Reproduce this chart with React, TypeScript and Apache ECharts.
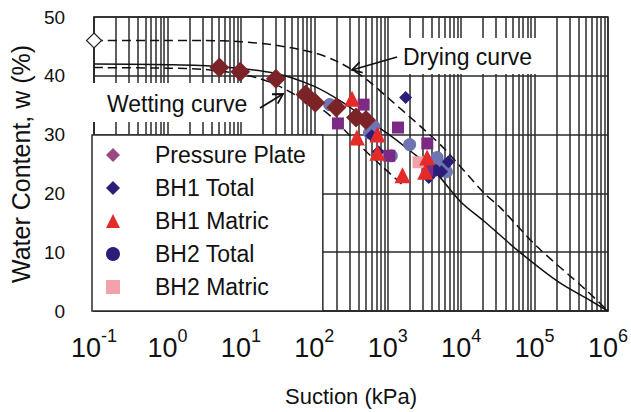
import React, { useEffect, useRef } from "react";
import * as echarts from "echarts";

const FONT = "'Liberation Sans', Arial, Helvetica, sans-serif";

// Curves: [suction kPa, water content %]
const dryingCurve: number[][] = [
  [0.1, 46], [1, 46], [3, 46], [10, 45.8], [30, 45.2], [100, 43.9], [200, 42.5],
  [350, 40.8], [525, 39.3], [1000, 36.3], [3160, 30.8], [6000, 27.5], [20400, 20.1],
  [34700, 17.5], [107000, 11], [490000, 3.7], [1000000, 0],
];
const fittedCurve: number[][] = [
  [0.1, 42], [1, 41.9], [5, 41.6], [30, 40.4], [100, 38.2], [250, 35.4], [525, 32.5],
  [1100, 29.8], [2000, 27.3], [4200, 24], [10000, 18.5], [20400, 15.3], [63000, 10],
  [214000, 4.9], [590000, 1.7], [1000000, 0],
];
const wettingCurve: number[][] = [
  [0.1, 41.4], [1, 41.3], [3, 41.1], [8, 40.5], [16, 39.7], [30, 38.5], [62, 36.4],
  [130, 34.2], [175, 32.9], [390, 28.5], [890, 24.3], [1580, 21.5],
];
const dryingStart: number[][] = [[0.1, 46]];

// Measured points
const pressurePlate: number[][] = [
  [5.1, 41.4], [9.8, 40.7], [30, 39.5], [76, 36.8], [103, 35.4], [200, 34.6], [370, 32.9], [505, 32.5],
];
const bh1Total: number[][] = [
  [1754, 36.3], [605, 29.8], [745, 27.1], [3620, 22.7], [6700, 25.4], [5400, 23.7],
];
const bh1Matric: number[][] = [
  [327, 36.1], [380, 29.5], [725, 30], [725, 26.9], [1590, 23.1], [3440, 26.1], [3240, 23.7],
];
const bh2TotalLight: number[][] = [
  [162, 35.1], [645, 31.4], [565, 30.3], [1990, 28.3], [1120, 26.4], [4700, 26.1], [4950, 25.1], [6300, 23.7],
];
const bh2TotalDark: number[][] = [[4270, 23.9]];
const bh2MatricPurple: number[][] = [
  [470, 35.1], [210, 31.9], [1380, 31.2], [1050, 26.4], [3460, 28.5], [3460, 23.9],
];
const bh2MatricPink: number[][] = [[2630, 25.3]];

const minorGrid: number[] = [];
for (let e = -1; e < 6; e++) {
  for (let m = 2; m <= 9; m++) minorGrid.push(m * Math.pow(10, e));
}

function arrowHead(tx: number, ty: number, fx: number, fy: number, len: number) {
  const dx = fx - tx, dy = fy - ty;
  const n = Math.hypot(dx, dy);
  const bx = dx / n, by = dy / n;
  const a = Math.PI / 6;
  const p1 = [tx + len * (bx * Math.cos(a) - by * Math.sin(a)), ty + len * (bx * Math.sin(a) + by * Math.cos(a))];
  const p2 = [tx + len * (bx * Math.cos(-a) - by * Math.sin(-a)), ty + len * (bx * Math.sin(-a) + by * Math.cos(-a))];
  return [p1, [tx, ty], p2];
}

export default function App() {
  const ref = useRef<HTMLDivElement>(null);
  useEffect(() => {
    if (!ref.current) return;
    const chart = echarts.init(ref.current, null, { renderer: "svg" });
    const dark = "#2a2a2a";
    const option: any = {
      animation: false,
      backgroundColor: "#fff",
      textStyle: { fontFamily: FONT },
      grid: { left: 83, right: 20, top: 17, bottom: 100, show: true, borderColor: dark, borderWidth: 1.5 },
      xAxis: {
        type: "log",
        logBase: 10,
        min: 0.1,
        max: 1000000,
        splitNumber: 7,
        name: "Suction (kPa)",
        nameLocation: "middle",
        nameGap: 74,
        nameTextStyle: { fontFamily: FONT, fontSize: 22, color: "#111" },
        axisLine: { show: true, lineStyle: { color: dark, width: 1.5 } },
        axisTick: { show: false },
        splitLine: { show: true, lineStyle: { color: dark, width: 1.5 } },
        axisLabel: {
          margin: 16,
          formatter: (v: number) => `{b|10}{s|${Math.round(Math.log10(v))}}`,
          rich: {
            b: { fontFamily: FONT, fontSize: 27, color: "#111", lineHeight: 34, verticalAlign: "bottom" },
            s: { fontFamily: FONT, fontSize: 18, color: "#111", lineHeight: 18, verticalAlign: "top" },
          },
        },
      },
      yAxis: {
        type: "value",
        min: 0,
        max: 50,
        interval: 10,
        name: "Water Content, w (%)",
        nameLocation: "middle",
        nameGap: 52,
        nameTextStyle: { fontFamily: FONT, fontSize: 25, color: "#111" },
        axisLine: { show: true, lineStyle: { color: dark, width: 1.5 } },
        axisTick: { show: false },
        splitLine: { show: true, lineStyle: { color: dark, width: 1.5 } },
        axisLabel: { margin: 29, fontFamily: FONT, fontSize: 19, color: "#111" },
      },
      legend: {
        data: [
          { name: "Pressure Plate", icon: "diamond", itemStyle: { color: "#9b4a80", opacity: 1 } },
          { name: "BH1 Total", icon: "diamond", itemStyle: { color: "#2a1e78", opacity: 1 } },
          { name: "BH1 Matric", icon: "triangle", itemStyle: { color: "#e52a2a", opacity: 1 } },
          { name: "BH2 Total", icon: "circle", itemStyle: { color: "#2a1e78", opacity: 1 } },
          { name: "BH2 Matric", icon: "rect", itemStyle: { color: "#f1a1a8", opacity: 1 } },
        ],
        orient: "vertical",
        left: 92,
        top: 135,
        z: 20,
        itemWidth: 14,
        itemHeight: 14,
        itemGap: 9,
        padding: [8, 17, 12, 14],
        backgroundColor: "#fff",
        borderColor: dark,
        borderWidth: 1.5,
        borderRadius: 0,
        selectedMode: false,
        textStyle: { fontFamily: FONT, fontSize: 23, color: "#111", lineHeight: 24, padding: [0, 0, 0, 30] },
      },
      series: [
        {
          name: "grid",
          type: "line",
          data: [],
          silent: true,
          z: 1,
          markLine: {
            silent: true,
            z: 1,
            symbol: ["none", "none"],
            label: { show: false },
            lineStyle: { type: "solid", color: dark, width: 1.5 },
            data: minorGrid.map((v) => ({ xAxis: v })),
          },
        },
        {
          name: "Drying curve",
          type: "line",
          smooth: 0.3,
          showSymbol: false,
          data: dryingCurve,
          lineStyle: { color: "#111", width: 1.5, type: [9, 5] },
        },
        {
          name: "Fitted",
          type: "line",
          smooth: 0.3,
          showSymbol: false,
          data: fittedCurve,
          lineStyle: { color: "#111", width: 1.5, type: "solid" },
        },
        {
          name: "Wetting curve",
          type: "line",
          smooth: 0.3,
          showSymbol: false,
          data: wettingCurve,
          lineStyle: { color: "#111", width: 1.5, type: [9, 5] },
        },
        {
          name: "Drying start",
          type: "scatter",
          clip: false,
          symbol: "diamond",
          symbolSize: 15,
          data: dryingStart,
          itemStyle: { color: "#fff", borderColor: "#222", borderWidth: 1.2, opacity: 1 },
          z: 5,
        },
        {
          name: "BH2 Total",
          type: "scatter",
          symbol: "circle",
          symbolSize: 13,
          data: [
            ...bh2TotalLight.map((p) => ({ value: p, itemStyle: { color: "#6f74b2" } })),
            ...bh2TotalDark.map((p) => ({ value: p, itemStyle: { color: "#2a1e78" } })),
          ],
          itemStyle: { color: "#2a1e78", opacity: 1 },
          z: 3,
        },
        {
          name: "Pressure Plate",
          type: "scatter",
          symbol: "diamond",
          symbolSize: 20,
          data: pressurePlate,
          itemStyle: { color: "#7b2327", opacity: 1 },
          z: 4,
        },
        {
          name: "BH1 Total",
          type: "scatter",
          symbol: "diamond",
          symbolSize: 13,
          data: bh1Total,
          itemStyle: { color: "#2a1e78", opacity: 1 },
          z: 4,
        },
        {
          name: "BH2 Matric",
          type: "scatter",
          symbol: "rect",
          symbolSize: 12,
          data: [
            ...bh2MatricPurple.map((p) => ({ value: p, itemStyle: { color: "#7c2b85" } })),
            ...bh2MatricPink.map((p) => ({ value: p, itemStyle: { color: "#f1a1a8" } })),
          ],
          itemStyle: { color: "#f1a1a8", opacity: 1 },
          z: 4,
        },
        {
          name: "BH1 Matric",
          type: "scatter",
          symbol: "triangle",
          symbolSize: 16,
          data: bh1Matric,
          itemStyle: { color: "#e52a2a", opacity: 1 },
          z: 5,
        },
      ],
      graphic: [
        { type: "rect", z: 100, shape: { x: 400, y: 38, width: 140, height: 36 }, style: { fill: "#fff" } },
        {
          type: "text", z: 101, x: 403, y: 57,
          style: { text: "Drying curve", font: `23px ${FONT}`, fill: "#111", textVerticalAlign: "middle" },
        },
        { type: "line", z: 101, shape: { x1: 397, y1: 57, x2: 352, y2: 70 }, style: { stroke: "#111", lineWidth: 1.8 } },
        { type: "polyline", z: 101, shape: { points: arrowHead(352, 70, 397, 57, 11) }, style: { stroke: "#111", lineWidth: 1.8, fill: null } },
        { type: "rect", z: 100, shape: { x: 92, y: 83, width: 166, height: 39 }, style: { fill: "#fff" } },
        {
          type: "text", z: 101, x: 107, y: 104,
          style: { text: "Wetting curve", font: `23px ${FONT}`, fill: "#111", textVerticalAlign: "middle" },
        },
        { type: "line", z: 101, shape: { x1: 260, y1: 108, x2: 283, y2: 94 }, style: { stroke: "#111", lineWidth: 1.8 } },
        { type: "polyline", z: 101, shape: { points: arrowHead(283, 94, 260, 108, 11) }, style: { stroke: "#111", lineWidth: 1.8, fill: null } },
      ],
    };
    chart.setOption(option);
    return () => chart.dispose();
  }, []);
  return <div ref={ref} style={{ position: "fixed", left: 0, top: 0, width: 631, height: 412 }} />;
}
